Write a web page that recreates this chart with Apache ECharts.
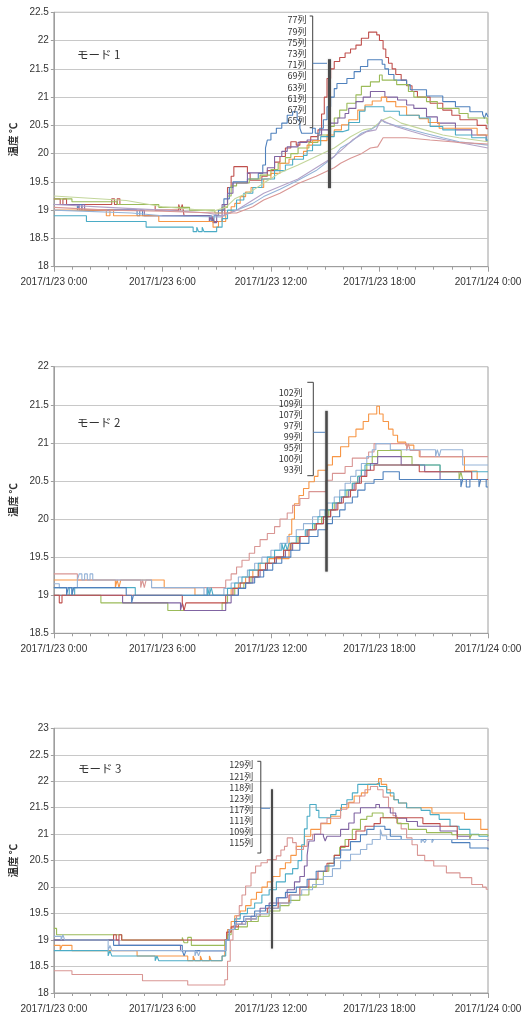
<!DOCTYPE html>
<html>
<head>
<meta charset="utf-8">
<script src="https://cdn.jsdelivr.net/npm/echarts@6.0.0/dist/echarts.min.js"></script>
<style>
  html, body { margin: 0; padding: 0; background: #fff; }
  #chart { width: 525px; height: 1014px; }
</style>
</head>
<body>
<div id="chart"></div>
<script>
// Tick labels of the shared time axis (hours 0, 6, 12, 18, 24)
const hourLabels = ['2017/1/23 0:00', '2017/1/23 6:00', '2017/1/23 12:00', '2017/1/23 18:00', '2017/1/24 0:00'];
const yAxisTitle = '温度 ℃';

// ---------- モード 1 : [hour, °C] ----------
const mode1Title = 'モード 1';
const mode1Columns = ['77列', '79列', '75列', '73列', '71列', '69列', '63列', '61列', '67列', '65列'];
const m1c77 = [[0,19.2],[0.35,19.1],[0.5,19.2],[0.7,19.1],[3.2,19.2],[3.35,19.1],[3.5,19.2],[3.65,19.1],[5.6,19.0],[6.9,19.1],[7.0,19.0],[7.1,19.1],[7.2,18.9],[8.6,18.8],[8.75,18.9],[8.85,18.8],[9.3,18.9],[9.45,19.1],[9.6,19.4],[9.8,19.6],[9.95,19.77],[10.7,19.65],[10.85,19.53],[11.5,19.6],[11.8,19.7],[12.2,19.85],[12.5,19.95],[12.8,20.1],[13.1,20.21],[13.4,20.15],[13.6,20.21],[14.2,20.3],[14.6,20.42],[14.8,20.7],[14.95,21.0],[15.1,21.33],[15.3,21.5],[15.5,21.63],[15.8,21.7],[16.1,21.78],[16.4,21.85],[16.7,21.92],[17.0,22.04],[17.4,22.15],[17.85,22.1],[18.0,22.0],[18.2,21.85],[18.35,21.7],[18.5,21.6],[18.7,21.5],[18.9,21.4],[19.2,21.3],[19.5,21.2],[19.8,21.1],[20.1,21.0],[20.8,20.89],[21.5,20.77],[22.0,20.68],[22.45,20.6],[23.4,20.5],[23.9,20.44],[24,20.44]];
const m1c79 = [[0,19.1],[1.3,19.0],[1.4,19.1],[1.55,19.0],[4.6,18.9],[4.75,19.0],[4.9,18.9],[8.7,18.8],[8.85,18.9],[9.1,19.0],[9.4,19.2],[9.7,19.4],[9.9,19.5],[10.7,19.55],[11.3,19.65],[11.55,19.8],[11.7,20.1],[11.8,20.24],[12.0,20.36],[12.3,20.45],[12.6,20.54],[12.9,20.68],[13.2,20.74],[13.45,20.6],[13.6,20.45],[13.7,20.36],[14.3,20.45],[14.45,20.36],[14.7,20.45],[14.9,20.6],[15.1,20.83],[15.3,21.0],[15.5,21.15],[15.65,21.24],[16.2,21.33],[16.6,21.45],[16.95,21.54],[17.35,21.66],[18.15,21.58],[18.3,21.5],[18.5,21.4],[18.8,21.3],[19.5,21.22],[19.7,21.13],[20.6,21.02],[21.5,20.92],[22.2,20.83],[23.0,20.74],[23.7,20.7],[23.8,20.62],[23.9,20.72],[24,20.65]];
const m1c75 = [[0,19.2],[1.0,19.15],[3.5,19.1],[5.8,19.05],[7.5,19.0],[8.9,18.95],[9.3,19.05],[9.6,19.25],[9.8,19.43],[10.1,19.48],[10.8,19.55],[11.4,19.62],[12.0,19.72],[12.4,19.83],[12.8,19.93],[13.1,20.0],[13.5,20.1],[14.1,20.2],[14.6,20.33],[15.3,20.48],[15.5,20.63],[15.8,20.77],[16.2,20.89],[16.7,21.04],[17.0,21.19],[17.5,21.27],[18.0,21.39],[18.15,21.3],[18.95,21.22],[19.6,21.1],[19.9,21.0],[20.6,20.92],[21.2,20.8],[22.4,20.71],[22.9,20.63],[23.95,20.54],[24,20.54]];
const m1c73 = [[0,19.1],[1.4,19.0],[1.55,19.1],[1.7,19.0],[5.0,18.9],[8.6,18.8],[8.7,18.9],[8.8,18.78],[9.0,18.9],[9.3,19.1],[9.6,19.3],[9.9,19.48],[10.7,19.66],[11.8,19.75],[12.2,19.95],[12.6,20.04],[12.9,20.12],[13.5,20.2],[14.0,20.24],[14.6,20.33],[14.8,20.42],[15.2,20.54],[15.7,20.63],[16.1,20.71],[16.3,20.8],[16.7,20.92],[17.1,21.0],[17.5,21.1],[18.3,21.0],[19.0,20.95],[19.5,20.86],[19.9,20.8],[20.6,20.65],[21.2,20.54],[22.2,20.42],[23.1,20.33],[23.9,20.22],[24,20.22]];
const m1c71 = [[0,19.0],[2.9,18.9],[3.1,19.0],[3.3,18.9],[5.8,18.8],[8.8,18.7],[9.1,18.8],[9.5,18.95],[9.8,19.06],[10.0,19.12],[10.3,19.24],[10.6,19.32],[10.9,19.4],[11.6,19.55],[12.0,19.65],[12.5,19.83],[13.0,19.9],[13.3,19.95],[13.8,20.04],[14.0,20.15],[14.3,20.23],[15.1,20.33],[15.5,20.42],[15.9,20.51],[16.3,20.6],[16.8,20.77],[17.2,20.86],[17.6,20.93],[18.1,21.0],[18.4,20.92],[18.9,20.83],[19.5,20.68],[20.2,20.62],[20.7,20.55],[21.3,20.45],[23.4,20.33],[24,20.33]];
const m1c69 = [[0,18.9],[1.8,18.8],[5.1,18.7],[7.7,18.62],[7.9,18.7],[8.0,18.62],[8.2,18.7],[8.3,18.62],[9.0,18.7],[9.3,18.85],[9.6,19.0],[10.1,19.18],[10.5,19.3],[11.0,19.4],[11.5,19.55],[12.2,19.7],[12.8,19.8],[13.2,19.9],[13.8,19.97],[14.0,20.05],[14.3,20.15],[14.75,20.3],[15.5,20.39],[16.0,20.42],[16.3,20.55],[16.9,20.75],[17.2,20.83],[18.25,20.75],[19.1,20.68],[20.2,20.63],[20.8,20.48],[21.5,20.42],[22.2,20.33],[23.1,20.28],[23.9,20.24],[24,20.24]];
const m1c63 = [[0,19.25],[2,19.21],[4,19.17],[6,19.06],[7.5,19.02],[8.8,18.98],[9.5,19.05],[10.0,19.2],[11.0,19.35],[11.6,19.48],[12.5,19.66],[13.5,19.8],[14.5,19.95],[15.5,20.1],[16.4,20.3],[17.1,20.42],[17.6,20.45],[18.2,20.6],[18.6,20.65],[19.2,20.54],[20.5,20.42],[21.5,20.33],[22.4,20.28],[24,20.21]];
const m1c61 = [[0,19.0],[4.3,18.95],[6,18.9],[9.2,18.88],[10.1,19.0],[11.0,19.12],[11.6,19.24],[12.5,19.37],[13.5,19.53],[14.5,19.7],[15.5,19.95],[15.85,20.1],[16.4,20.2],[17.0,20.36],[17.5,20.42],[17.9,20.5],[18.1,20.6],[18.3,20.55],[19.1,20.48],[20.5,20.36],[21.5,20.28],[22.4,20.21],[24,20.15]];
const m1c67 = [[0,19.1],[3,19.05],[6,19.0],[8.5,18.95],[9.3,18.9],[10.1,19.0],[11.6,19.3],[13.5,19.55],[14.5,19.75],[15.5,19.95],[16.1,20.12],[16.5,20.24],[17.3,20.39],[17.8,20.42],[18.1,20.6],[18.4,20.55],[18.9,20.48],[19.8,20.39],[20.8,20.3],[21.7,20.24],[22.7,20.18],[24,20.1]];
const m1c65 = [[0,19.05],[3,19.0],[6,18.98],[9,18.95],[10.1,18.95],[11.0,19.06],[11.6,19.18],[12.5,19.3],[13.5,19.47],[14.5,19.6],[15.5,19.75],[15.85,19.83],[16.4,19.92],[17.0,20.0],[17.5,20.1],[17.9,20.12],[18.2,20.28],[19.5,20.28],[20.8,20.24],[22.3,20.2],[24,20.17]];
const mode1Marker = { hour: 15.2, low: 19.39, high: 21.67 };

// ---------- モード 2 ----------
const mode2Title = 'モード 2';
const mode2Columns = ['102列', '109列', '107列', '97列', '99列', '95列', '100列', '93列'];
const m2c102 = [[0,19.2],[3.4,19.1],[3.5,19.2],[3.6,19.1],[3.7,19.2],[6.1,19.1],[7.8,19.0],[9.8,19.09],[10.2,19.16],[10.6,19.24],[11.0,19.33],[11.4,19.42],[11.9,19.48],[13.0,19.8],[13.15,20.0],[13.3,20.2],[13.55,20.31],[13.8,20.4],[14.1,20.49],[14.4,20.56],[14.6,20.64],[15.1,20.71],[15.4,20.82],[15.85,20.95],[16.3,21.08],[16.7,21.18],[17.1,21.28],[17.4,21.38],[17.85,21.48],[18.0,21.38],[18.2,21.28],[18.5,21.18],[18.75,21.1],[19.0,21.01],[19.45,20.97],[19.9,20.9],[20.2,20.82],[22.7,20.63],[23.4,20.52],[24,20.52]];
const m2c109 = [[0,19.28],[1.3,19.2],[4.8,19.1],[4.9,19.2],[5.0,19.1],[5.1,19.2],[5.4,19.1],[9.5,19.2],[9.8,19.28],[10.1,19.37],[10.4,19.46],[10.8,19.55],[11.1,19.64],[11.4,19.73],[11.8,19.81],[12.2,19.9],[12.5,20.0],[12.9,20.08],[13.2,20.18],[13.6,20.27],[14.1,20.36],[15.05,20.51],[15.4,20.6],[16.1,20.69],[16.5,20.8],[17.4,20.88],[17.7,20.99],[19.5,20.9],[19.6,20.99],[19.7,20.9],[20.25,20.82],[24,20.82]];
const m2c107 = [[0,19.15],[0.3,19.1],[1.3,19.2],[1.4,19.28],[1.55,19.2],[1.7,19.28],[1.85,19.2],[2.0,19.28],[2.15,19.2],[5.4,19.1],[8.3,19.0],[8.45,19.1],[8.6,19.0],[9.4,19.09],[9.8,19.16],[10.2,19.24],[10.7,19.33],[11.1,19.42],[11.5,19.5],[12.0,19.59],[12.5,19.68],[12.9,19.77],[13.4,19.86],[13.8,19.94],[14.3,20.03],[14.7,20.12],[15.1,20.21],[15.5,20.29],[15.8,20.38],[16.1,20.47],[16.4,20.56],[16.7,20.64],[17.0,20.73],[17.3,20.82],[17.6,20.91],[17.8,20.99],[18.6,20.91],[21.1,20.82],[21.2,20.91],[21.3,20.82],[21.4,20.91],[22.6,20.71],[24,20.71]];
const m2c97 = [[0,19.0],[2.6,18.9],[6.3,18.8],[9.3,18.9],[9.6,19.0],[10.0,19.09],[10.5,19.16],[10.9,19.24],[11.3,19.33],[11.8,19.42],[12.3,19.5],[12.7,19.59],[13.1,19.68],[13.5,19.77],[14.0,19.86],[14.4,19.94],[14.8,20.03],[15.2,20.12],[15.5,20.21],[15.9,20.29],[16.2,20.38],[16.5,20.47],[16.8,20.56],[17.0,20.64],[17.3,20.73],[17.6,20.82],[17.9,20.9],[19.2,20.82],[19.8,20.71],[21.35,20.62],[22.4,20.52],[22.5,20.62],[22.6,20.52],[24,20.52]];
const m2c99 = [[0,19.0],[3.8,18.9],[7.0,18.8],[7.1,18.9],[7.2,18.8],[9.5,18.9],[9.8,19.0],[10.2,19.09],[10.6,19.16],[11.0,19.24],[11.4,19.33],[11.8,19.42],[12.3,19.5],[12.8,19.59],[13.2,19.68],[13.6,19.77],[14.0,19.86],[14.5,19.94],[14.9,20.03],[15.3,20.12],[15.6,20.21],[15.9,20.29],[16.3,20.38],[16.6,20.47],[16.9,20.56],[17.2,20.64],[17.5,20.73],[17.9,20.82],[19.2,20.71],[20.5,20.62],[21.35,20.52],[24,20.52]];
const m2c95 = [[0,19.1],[0.7,19.0],[0.85,19.1],[1.0,19.0],[1.15,19.1],[4.5,19.0],[8.5,19.1],[8.6,19.0],[8.7,19.1],[8.8,19.0],[9.6,19.09],[10.0,19.16],[10.4,19.24],[10.8,19.33],[11.3,19.42],[11.8,19.5],[12.2,19.59],[12.6,19.68],[12.7,19.59],[12.8,19.68],[12.9,19.59],[13.0,19.68],[13.4,19.77],[13.9,19.86],[14.3,19.94],[14.6,20.03],[15.0,20.12],[15.4,20.21],[15.8,20.29],[16.1,20.38],[16.5,20.47],[16.8,20.56],[17.0,20.64],[17.2,20.71],[21.35,20.62],[24,20.62]];
const m2c100 = [[0,19.0],[0.3,18.9],[0.45,19.0],[7.1,18.9],[7.2,18.8],[7.3,18.9],[9.5,19.0],[9.9,19.09],[10.3,19.16],[10.8,19.24],[11.3,19.33],[11.7,19.42],[12.2,19.5],[12.7,19.59],[13.1,19.68],[13.6,19.77],[14.1,19.86],[14.5,19.94],[14.9,20.03],[15.3,20.12],[15.7,20.21],[16.0,20.29],[16.4,20.38],[16.7,20.47],[17.0,20.56],[17.3,20.64],[17.7,20.71],[20.2,20.62],[23.1,20.52],[24,20.52]];
const m2c93 = [[0,19.1],[0.7,19.0],[0.8,19.1],[1.0,19.0],[1.1,19.1],[4.0,19.0],[4.3,18.9],[4.4,19.0],[9.7,19.0],[10.2,19.09],[10.6,19.16],[11.1,19.24],[11.6,19.33],[12.1,19.42],[12.6,19.5],[13.1,19.59],[13.6,19.68],[14.1,19.77],[14.6,19.86],[15.1,19.94],[15.4,20.03],[15.8,20.12],[16.1,20.21],[16.5,20.29],[16.8,20.38],[17.2,20.47],[17.7,20.52],[18.2,20.62],[19.1,20.52],[22.5,20.42],[22.6,20.52],[22.8,20.42],[23.0,20.52],[23.5,20.42],[23.6,20.52],[23.9,20.42],[24,20.42]];
const mode2Marker = { hour: 15.06, low: 19.31, high: 21.42 };

// ---------- モード 3 ----------
const mode3Title = 'モード 3';
const mode3Columns = ['129列', '121列', '118列', '123列', '117列', '111列', '109列', '115列'];
const m3c129 = [[0,18.9],[0.35,18.8],[0.45,18.9],[1.0,18.8],[4.6,18.7],[7.4,18.61],[7.7,18.7],[7.8,18.61],[8.1,18.7],[8.2,18.61],[8.6,18.7],[8.7,18.61],[9.3,18.7],[9.45,19.0],[9.6,19.2],[9.8,19.35],[10.0,19.46],[10.3,19.55],[10.6,19.65],[10.9,19.77],[11.2,19.9],[11.5,20.0],[11.8,20.1],[12.1,20.2],[12.5,20.35],[12.8,20.46],[13.1,20.6],[13.4,20.77],[13.85,20.96],[14.2,21.09],[14.75,21.2],[15.3,21.34],[15.85,21.5],[16.3,21.6],[16.6,21.72],[17.0,21.78],[17.35,21.94],[17.95,22.05],[18.1,21.94],[18.4,21.84],[18.6,21.72],[18.8,21.65],[19.05,21.59],[19.5,21.5],[20.9,21.4],[22.7,21.28],[23.6,21.09],[24,21.09]];
const m3c121 = [[0,18.8],[3.0,18.7],[3.1,18.8],[3.2,18.7],[5.6,18.61],[5.7,18.7],[5.8,18.61],[9.3,18.7],[9.5,19.0],[9.7,19.2],[10.0,19.4],[10.3,19.5],[10.7,19.6],[11.1,19.7],[11.5,19.85],[11.9,19.95],[12.3,20.1],[12.8,20.25],[13.2,20.35],[13.5,20.5],[13.7,20.8],[13.85,21.1],[14.0,21.34],[14.15,21.56],[14.5,21.45],[14.65,21.31],[15.3,21.37],[15.6,21.45],[15.9,21.56],[16.2,21.65],[16.5,21.78],[16.8,21.94],[17.8,21.97],[18.0,21.9],[18.4,21.78],[18.8,21.65],[19.05,21.59],[19.5,21.5],[20.3,21.45],[20.8,21.37],[21.3,21.28],[21.9,21.15],[22.4,21.09],[23.0,21.0],[23.5,20.96],[24,20.96]];
const m3c118 = [[0,18.42],[1.0,18.35],[4.9,18.23],[7.4,18.15],[9.45,18.25],[9.6,18.6],[9.75,19.0],[9.9,19.27],[10.1,19.46],[10.25,19.65],[10.4,19.85],[10.6,20.02],[10.9,20.27],[11.15,20.4],[11.45,20.46],[11.8,20.52],[12.3,20.59],[12.55,20.7],[12.75,20.77],[12.9,20.93],[13.2,20.84],[13.4,20.71],[13.8,20.77],[14.0,20.9],[14.3,21.0],[14.75,21.21],[15.1,21.3],[15.85,21.47],[16.2,21.59],[16.9,21.72],[17.2,21.84],[17.5,21.9],[17.9,21.84],[18.2,21.7],[18.5,21.5],[18.75,21.35],[18.95,21.21],[19.2,21.1],[19.5,20.93],[19.8,20.8],[20.1,20.6],[20.5,20.5],[21.0,20.4],[21.7,20.27],[22.45,20.18],[23.1,20.05],[23.7,20.0],[23.9,19.96],[24,19.96]];
const m3c123 = [[0,19.0],[3.6,18.9],[7.0,18.8],[9.3,18.8],[9.5,19.0],[9.7,19.2],[10.0,19.3],[10.4,19.35],[10.9,19.45],[11.4,19.6],[11.9,19.7],[12.4,19.8],[12.9,19.95],[13.3,20.1],[13.6,20.2],[13.85,20.4],[14.0,20.6],[14.1,20.87],[14.4,21.0],[14.9,20.96],[15.0,20.87],[15.1,20.96],[15.85,21.09],[16.3,21.21],[16.6,21.4],[16.95,21.5],[17.8,21.56],[18.0,21.5],[18.6,21.4],[18.9,21.3],[19.5,21.24],[20.1,21.15],[21.35,21.06],[22.3,20.96],[23.0,20.9],[24,20.87]];
const m3c117 = [[0,19.22],[0.15,19.1],[3.75,19.0],[7.1,19.05],[7.2,18.95],[7.4,19.05],[7.6,18.9],[9.45,19.0],[9.6,19.1],[9.8,19.2],[10.2,19.25],[10.7,19.35],[11.3,19.45],[11.9,19.55],[12.5,19.65],[13.0,19.75],[13.6,19.85],[14.1,20.0],[14.5,20.15],[14.9,20.3],[15.2,20.45],[15.5,20.6],[15.8,20.75],[16.1,20.9],[16.5,21.09],[16.95,21.28],[17.3,21.34],[17.6,21.4],[18.2,21.31],[19.0,21.2],[19.6,21.09],[20.6,21.03],[22.0,20.99],[23.0,20.93],[23.1,20.99],[24,20.96]];
const m3c111 = [[0,19.0],[3.3,19.1],[3.45,19.0],[3.6,19.1],[3.75,19.0],[9.3,19.0],[9.55,19.15],[9.8,19.25],[10.2,19.3],[10.6,19.4],[11.2,19.5],[11.8,19.6],[12.4,19.7],[13.0,19.85],[13.6,20.0],[14.1,20.15],[14.6,20.3],[15.1,20.45],[15.5,20.6],[15.85,20.77],[16.3,20.9],[16.7,21.06],[17.2,21.15],[17.7,21.2],[18.05,21.31],[20.4,21.2],[21.35,21.15],[22.3,20.9],[24,20.9]];
const m3c109 = [[0,19.0],[3.3,18.9],[7.1,18.8],[7.2,18.7],[7.3,18.8],[9.5,19.0],[9.7,19.2],[10.0,19.35],[10.5,19.45],[11.1,19.55],[11.7,19.65],[12.3,19.8],[12.8,19.9],[13.4,20.0],[14.0,20.15],[14.5,20.3],[15.0,20.4],[15.5,20.55],[15.85,20.7],[16.4,20.86],[16.95,20.99],[17.3,21.09],[17.7,21.15],[18.3,21.09],[18.6,20.96],[19.2,20.9],[22.0,20.84],[23.0,20.74],[24,20.71]];
const m3c115 = [[0,19.07],[0.4,19.0],[0.5,19.1],[0.6,19.0],[3.0,18.8],[3.1,18.9],[3.2,18.8],[7.8,18.7],[7.9,18.8],[8.0,18.7],[8.1,18.8],[9.5,19.0],[9.7,19.2],[10.0,19.3],[10.6,19.4],[11.2,19.5],[11.9,19.6],[12.5,19.7],[13.1,19.85],[13.7,19.95],[14.3,20.05],[14.9,20.2],[15.4,20.35],[15.85,20.5],[16.4,20.62],[16.95,20.71],[17.3,20.81],[17.6,20.9],[18.05,21.09],[18.15,20.97],[18.4,20.9],[20.3,20.84],[20.4,20.9],[20.5,20.84],[20.6,20.9],[20.9,20.84],[21.0,20.9],[24,20.9]];
const mode3Marker = { hour: 12.03, low: 18.84, high: 21.85 };

// Office-style line colours
const COLORS = {
  blue: '#4F81BD', red: '#C0504D', green: '#9BBB59', purple: '#8064A2',
  aqua: '#4BACC6', orange: '#F79646', lightBlue: '#95B3D7', pink: '#D99694',
  lightGreen: '#C3D69B', lightPurple: '#B3A2C7'
};

const panels = [
  {
    title: mode1Title, columns: mode1Columns, marker: mode1Marker,
    yMin: 18, yMax: 22.5,
    grid: { left: 52, top: 12.3, width: 436, height: 254.4 },
    lines: [
      [m1c77, 'red', true], [m1c79, 'blue', true], [m1c75, 'green', true], [m1c73, 'purple', true],
      [m1c71, 'orange', true], [m1c69, 'aqua', true], [m1c63, 'lightGreen', false], [m1c61, 'lightBlue', false],
      [m1c67, 'lightPurple', false], [m1c65, 'pink', false]
    ],
    titlePos: [77, 55],
    list: { right: 306.5, top: 20, step: 11.2 },
    bracket: { x: 312.7, top: 16, bottom: 127.7, tick: 3, linkY: 63.3, linkTo: 327 },
    markerWidth: 3
  },
  {
    title: mode2Title, columns: mode2Columns, marker: mode2Marker,
    yMin: 18.5, yMax: 22,
    grid: { left: 52, top: 366.7, width: 436, height: 266.6 },
    lines: [
      [m2c102, 'orange', true], [m2c109, 'pink', true], [m2c107, 'lightBlue', true], [m2c97, 'green', true],
      [m2c99, 'purple', true], [m2c95, 'aqua', true], [m2c100, 'red', true], [m2c93, 'blue', true]
    ],
    titlePos: [77, 423],
    list: { right: 302.7, top: 392.3, step: 11.1 },
    bracket: { x: 313.3, top: 382.3, bottom: 475.7, tick: 6, linkY: 432.3, linkTo: 325 },
    markerWidth: 2.5
  },
  {
    title: mode3Title, columns: mode3Columns, marker: mode3Marker,
    yMin: 18, yMax: 23,
    grid: { left: 52, top: 728.3, width: 436, height: 265.7 },
    lines: [
      [m3c129, 'orange', true], [m3c121, 'aqua', true], [m3c118, 'pink', true], [m3c123, 'purple', true],
      [m3c117, 'green', true], [m3c111, 'red', true], [m3c109, 'blue', true], [m3c115, 'lightBlue', true]
    ],
    titlePos: [78, 769],
    list: { right: 253.3, top: 765, step: 11.15 },
    bracket: { x: 260.8, top: 761.3, bottom: 853, tick: 3.5, linkY: 808.3, linkTo: 270 },
    markerWidth: 2
  }
];

const LABEL_FONT = '"Liberation Sans", Arial, sans-serif';
const JP_FONT = '"Noto Sans CJK JP", "Noto Sans", sans-serif';
const TEXT = '#333333';
const GRID_LINE = '#C8C8C8';
const AXIS_LINE = '#9E9E9E';

const grids = [], xAxes = [], yAxes = [], series = [], graphics = [];

panels.forEach((p, i) => {
  grids.push(Object.assign({ show: true, borderColor: AXIS_LINE, borderWidth: 1, backgroundColor: 'transparent' }, p.grid));

  xAxes.push({
    type: 'value', gridIndex: i, min: 0, max: 24, interval: 6,
    axisLine: { show: true, lineStyle: { color: AXIS_LINE } },
    axisTick: { show: true, length: 5, lineStyle: { color: AXIS_LINE } },
    minorTick: { show: true, splitNumber: 6, length: 3, lineStyle: { color: AXIS_LINE } },
    splitLine: { show: false },
    axisLabel: {
      margin: 11, color: TEXT, fontSize: 10, fontFamily: LABEL_FONT,
      formatter: v => hourLabels[Math.round(v / 6)]
    }
  });

  yAxes.push({
    type: 'value', gridIndex: i, min: p.yMin, max: p.yMax, interval: 0.5,
    name: yAxisTitle, nameLocation: 'middle', nameGap: 30,
    nameTextStyle: { color: TEXT, fontSize: 10.5, fontWeight: 'bold', fontFamily: JP_FONT },
    axisLine: { show: true, lineStyle: { color: AXIS_LINE } },
    axisTick: { show: true, length: 3, lineStyle: { color: AXIS_LINE } },
    splitLine: { show: true, lineStyle: { color: GRID_LINE, width: 1 } },
    axisLabel: { margin: 5, color: TEXT, fontSize: 10, fontFamily: LABEL_FONT }
  });

  p.lines.forEach(([data, colorKey, stepped], j) => {
    const s = {
      type: 'line', name: p.columns[j], xAxisIndex: i, yAxisIndex: i,
      data: data, step: stepped ? 'end' : false,
      showSymbol: false, symbol: 'none', smooth: false,
      lineStyle: { color: COLORS[colorKey], width: 1.1 },
      itemStyle: { color: COLORS[colorKey] },
      emphasis: { disabled: true }, silent: true, z: 2
    };
    if (j === 0) {
      s.markLine = {
        silent: true, symbol: ['none', 'none'], label: { show: false },
        lineStyle: { color: '#4A4A4A', width: p.markerWidth, type: 'solid', opacity: 1,
                     shadowColor: 'rgba(0,0,0,0.35)', shadowBlur: 2 },
        data: [[{ coord: [p.marker.hour, p.marker.high] }, { coord: [p.marker.hour, p.marker.low] }]],
        animation: false
      };
    }
    series.push(s);
  });

  // mode caption
  graphics.push({
    type: 'text', x: p.titlePos[0], y: p.titlePos[1], z: 10,
    style: { text: p.title, fill: TEXT, font: '11.5px ' + JP_FONT,
             align: 'left', verticalAlign: 'middle', textAlign: 'left', textVerticalAlign: 'middle' }
  });

  // column list
  p.columns.forEach((c, k) => {
    graphics.push({
      type: 'text', x: p.list.right, y: p.list.top + k * p.list.step, z: 10,
      style: { text: c, fill: TEXT, font: '9px ' + JP_FONT,
               align: 'right', verticalAlign: 'middle', textAlign: 'right', textVerticalAlign: 'middle' }
    });
  });

  // bracket around the column list and its link to the marker bar
  const b = p.bracket;
  graphics.push({
    type: 'polyline', z: 10,
    shape: { points: [[b.x - b.tick, b.top], [b.x, b.top], [b.x, b.bottom], [b.x - b.tick, b.bottom]] },
    style: { stroke: '#404040', lineWidth: 1, fill: null }
  });
  graphics.push({
    type: 'line', z: 10,
    shape: { x1: b.x, y1: b.linkY, x2: b.linkTo, y2: b.linkY },
    style: { stroke: COLORS.blue, lineWidth: 1 }
  });
});

const chart = echarts.init(document.getElementById('chart'), null, { renderer: 'canvas' });
chart.setOption({
  animation: false,
  backgroundColor: '#ffffff',
  grid: grids,
  xAxis: xAxes,
  yAxis: yAxes,
  series: series,
  graphic: graphics
});
</script>
</body>
</html>
